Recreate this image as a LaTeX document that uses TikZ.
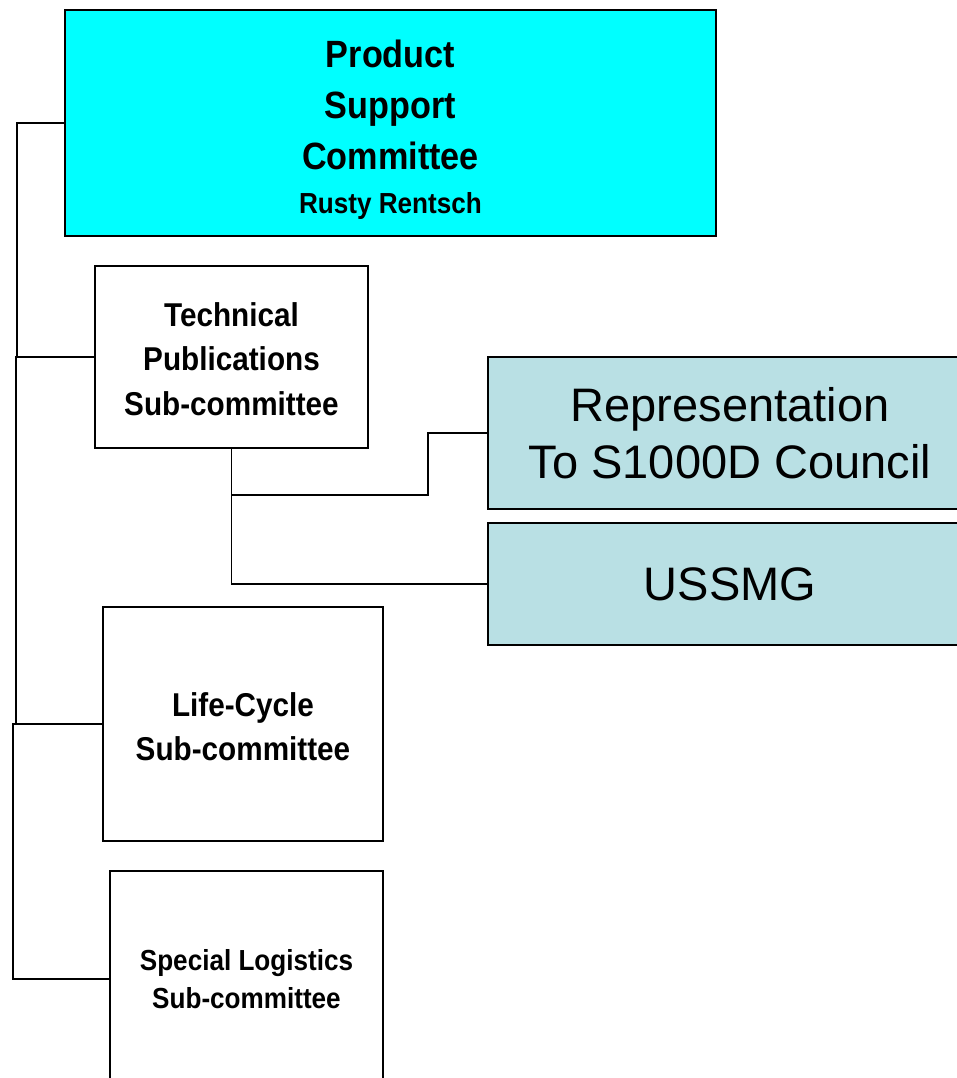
\documentclass[tikz,border=0pt]{standalone}
\usepackage{fontspec}
\setmainfont{Liberation Sans}
\newfontfamily\nb[FakeStretch=0.9]{Liberation Sans}
\definecolor{prodcyan}{RGB}{0,255,255}
\definecolor{palebl}{RGB}{185,224,228}
\begin{document}
\begin{tikzpicture}[x=1pt,y=-1pt,
  box/.style={draw=black,line width=2pt,rectangle,inner sep=0pt,outer sep=0pt,align=center,text=black},
  conn/.style={draw=black,line width=1.6pt},
  thickconn/.style={draw=black,line width=2.4pt}]
\clip (0,0) rectangle (957,1078);
\fill[white] (0,0) rectangle (957,1078);
\node[box,fill=prodcyan,minimum width=651pt,minimum height=226pt,
  font=\nb\bfseries\fontsize{38}{51}\selectfont] (prod) at (390.5,123)
  {\rule{0pt}{42pt}Product\\Support\\Committee\\[-7pt]{\fontsize{29}{44}\selectfont Rusty Rentsch}};
\node[box,fill=white,minimum width=273pt,minimum height=182pt,
  font=\nb\bfseries\fontsize{33}{44.5}\selectfont] (tech) at (231.5,357)
  {\rule{0pt}{28pt}Technical\\Publications\\Sub-committee};
\node[box,fill=white,minimum width=280pt,minimum height=234pt,
  font=\nb\bfseries\fontsize{33}{44}\selectfont] (life) at (243,724)
  {\rule{0pt}{30pt}Life-Cycle\\Sub-committee};
\node[box,fill=white,minimum width=273pt,minimum height=216pt,
  font=\nb\bfseries\fontsize{29}{38}\selectfont] (spec) at (246.5,979)
  {Special Logistics\\Sub-committee};
\node[box,fill=palebl,minimum width=484pt,minimum height=152pt,
  font=\fontsize{47}{57}\selectfont] (rep) at (730,433)
  {Representation\\To S1000D Council};
\node[box,fill=palebl,minimum width=484pt,minimum height=122pt,
  font=\fontsize{47}{57}\selectfont] (uss) at (730,584)
  {USSMG};
\coordinate (j1) at (428,495);
\draw[conn] (prod.west) -- ++(-48,0) |- (tech.west);
\draw[thickconn] (tech.west) -- ++(-79,0) |- (life.west);
\draw[conn] (life.west) -- ++(-90,0) |- (spec.west);
\draw[conn] (tech.south) |- (j1) |- (rep.west);
\draw[conn] (tech.south) |- (uss.west);
\end{tikzpicture}
\end{document}
